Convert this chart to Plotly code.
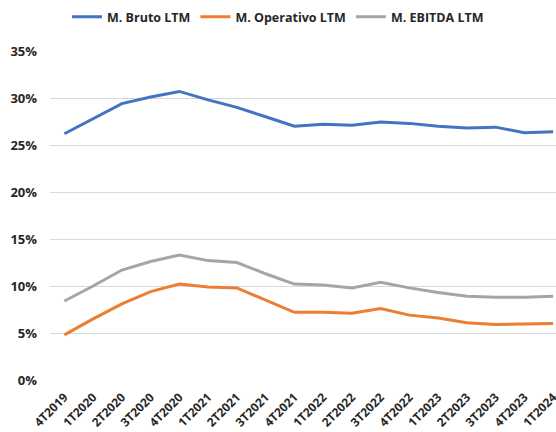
import plotly.graph_objects as go

quarters = ["4T2019","1T2020","2T2020","3T2020","4T2020","1T2021","2T2021","3T2021","4T2021",
            "1T2022","2T2022","3T2022","4T2022","1T2023","2T2023","3T2023","4T2023","1T2024"]
bruto = [26.2, 27.8, 29.4, 30.1, 30.7, 29.8, 29.0, 28.0, 27.0, 27.2, 27.1, 27.45, 27.3, 27.0, 26.8, 26.9, 26.3, 26.4]
operativo = [4.8, 6.5, 8.1, 9.4, 10.2, 9.9, 9.8, 8.5, 7.2, 7.2, 7.1, 7.6, 6.9, 6.6, 6.1, 5.9, 5.95, 6.0]
ebitda = [8.4, 10.0, 11.7, 12.6, 13.3, 12.7, 12.5, 11.3, 10.2, 10.1, 9.8, 10.4, 9.8, 9.3, 8.9, 8.8, 8.8, 8.9]

series = [("M. Bruto LTM", bruto, "#4472C4"),
          ("M. Operativo LTM", operativo, "#ED7D31"),
          ("M. EBITDA LTM", ebitda, "#A5A5A5")]

fig = go.Figure()
for name, vals, color in series:
    fig.add_trace(go.Scatter(x=quarters, y=[v / 100 for v in vals], mode="lines", name=name,
                             line=dict(color=color, width=3)))

fig.update_layout(
    width=556, height=432,
    margin=dict(l=50, r=0, t=51, b=52, autoexpand=False),
    paper_bgcolor="white", plot_bgcolor="white",
    font=dict(family="Open Sans", size=12, color="#262626"),
    legend=dict(orientation="h", x=67 / 556, xanchor="left", xref="container",
                y=0.995, yref="container", yanchor="top",
                font=dict(size=12.5, family="Open Sans", weight="bold"),
                tracegroupgap=0),
    showlegend=True,
)
fig.update_xaxes(type="category", range=[-0.5, 17.1], tickangle=-45, showgrid=False,
                 showline=False, ticks="", automargin=False, ticklabelstandoff=7,
                 tickfont=dict(size=12, weight="bold"))
fig.update_yaxes(range=[0, 0.35], dtick=0.05, tickformat=".0%", showgrid=True,
                 gridcolor="#D9D9D9", gridwidth=1, zeroline=False, ticks="", automargin=False,
                 tickfont=dict(size=13, weight="bold"), ticklabelstandoff=12)

fig.write_html("out.html", config={"displayModeBar": False},
               post_script="document.body.style.margin='0';document.body.style.overflow='hidden';")
